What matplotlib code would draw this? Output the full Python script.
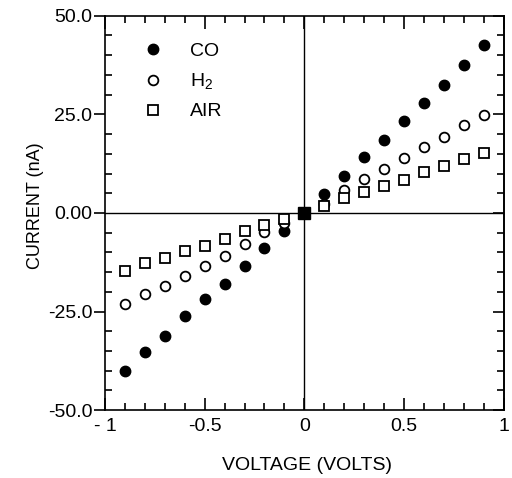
import matplotlib
matplotlib.use("Agg")
import matplotlib.pyplot as plt
from matplotlib.ticker import MultipleLocator, FixedLocator, FixedFormatter

plt.rcParams['font.family'] = ['Liberation Sans', 'DejaVu Sans']
plt.rcParams['mathtext.fontset'] = 'custom'
plt.rcParams['mathtext.rm'] = 'Liberation Sans'
plt.rcParams['mathtext.it'] = 'Liberation Sans'

voltage = [-0.9, -0.8, -0.7, -0.6, -0.5, -0.4, -0.3, -0.2, -0.1,
           0.1, 0.2, 0.3, 0.4, 0.5, 0.6, 0.7, 0.8, 0.9]
co = [-40.2, -35.2, -31.1, -26.2, -21.7, -18.0, -13.4, -9.0, -4.5,
      4.8, 9.4, 14.2, 18.5, 23.4, 28.0, 32.5, 37.4, 42.5]
h2 = [-23.1, -20.6, -18.4, -15.9, -13.4, -10.8, -8.0, -4.9, -2.5,
      2.3, 5.8, 8.5, 11.2, 13.9, 16.7, 19.2, 22.2, 24.9]
air = [-14.6, -12.7, -11.4, -9.7, -8.3, -6.6, -4.7, -3.0, -1.5,
       1.7, 3.8, 5.2, 6.9, 8.4, 10.3, 12.0, 13.7, 15.2]
origin_v = [0.0]
origin_i = [0.0]

xticks = [-1, -0.5, 0, 0.5, 1]
xticklabels = ['- 1', '-0.5', '0', '0.5', '1']
yticks = [-50, -25, 0, 25, 50]
yticklabels = ['-50.0', '-25.0', '0.00', '25.0', '50.0']

fig = plt.figure(figsize=(5.12, 4.78), dpi=100)
ax = fig.add_axes([0.205, 0.142, 0.779, 0.825])

ax.axhline(0, color='black', lw=1.0, zorder=1)
ax.axvline(0, color='black', lw=1.0, zorder=1)

ax.plot(voltage, co, 'o', color='black', ms=7.5, ls='none', label='CO', zorder=3)
ax.plot(voltage, h2, 'o', mfc='white', mec='black', mew=1.3, ms=7, ls='none',
        label='H$_2$', zorder=3)
ax.plot(voltage, air, 's', mfc='white', mec='black', mew=1.3, ms=6.5, ls='none',
        label='AIR', zorder=3)
ax.plot(origin_v, origin_i, 's', color='black', ms=8, ls='none', zorder=4)

ax.set_xlim(-1, 1)
ax.set_ylim(-50, 50)
ax.xaxis.set_major_locator(FixedLocator(xticks))
ax.xaxis.set_major_formatter(FixedFormatter(xticklabels))
ax.xaxis.set_minor_locator(MultipleLocator(0.1))
ax.yaxis.set_major_locator(FixedLocator(yticks))
ax.yaxis.set_major_formatter(FixedFormatter(yticklabels))
ax.yaxis.set_minor_locator(MultipleLocator(5))

ax.tick_params(axis='x', which='major', direction='in', length=9, width=1.2,
               top=True, labelsize=14, pad=6)
ax.tick_params(axis='x', which='minor', direction='in', length=5, width=1.2, top=True)
ax.tick_params(axis='y', which='major', direction='out', length=8, width=1.2,
               labelsize=14, pad=1)
ax.tick_params(axis='y', which='minor', direction='in', length=5, width=1.2)

sec = ax.secondary_yaxis('right')
sec.yaxis.set_major_locator(FixedLocator(yticks))
sec.yaxis.set_minor_locator(MultipleLocator(5))
sec.tick_params(which='major', direction='in', length=8, width=1.2, labelright=False)
sec.tick_params(which='minor', direction='in', length=5, width=1.2)
sec.spines['right'].set_linewidth(1.2)

for s in ax.spines.values():
    s.set_linewidth(1.2)

ax.set_xlabel('VOLTAGE (VOLTS)', fontsize=14)
ax.xaxis.set_label_coords(0.507, -0.118)
ax.set_ylabel('CURRENT (nA)', fontsize=13)
ax.yaxis.set_label_coords(-0.152, 0.518)

ax.legend(loc='upper left', bbox_to_anchor=(0.095, 0.932), frameon=False,
          fontsize=14, handletextpad=1.4, labelspacing=0.58, handlelength=1.0,
          borderpad=0, borderaxespad=0)

fig.savefig('out.png', dpi=100)
